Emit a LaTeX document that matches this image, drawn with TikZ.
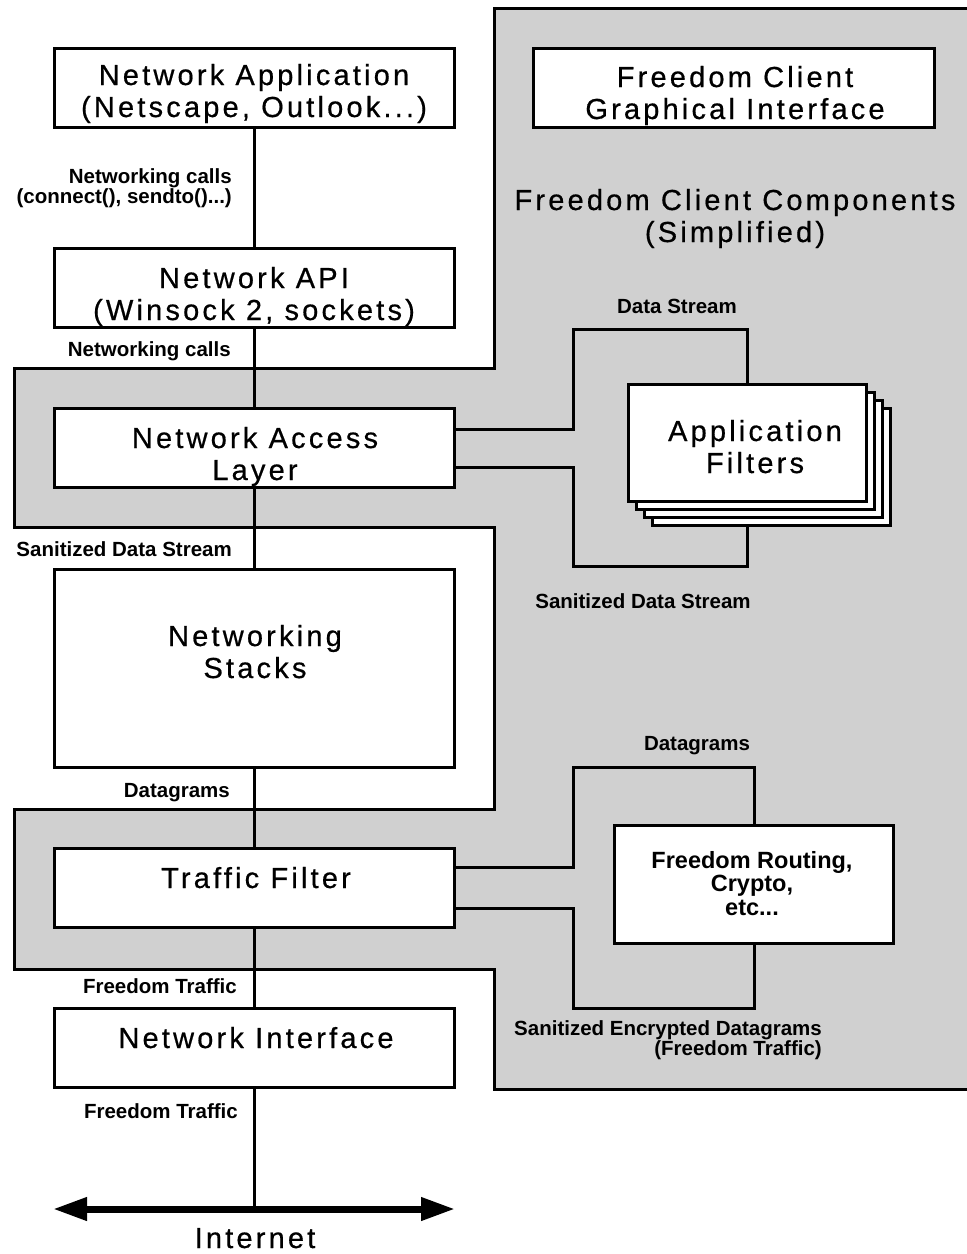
\documentclass[tikz,border=0pt]{standalone}
\usepackage{fontspec}
\setmainfont{Liberation Sans}
\newfontfamily\boxfont[LetterSpace=11,FakeBold=0.6]{Liberation Sans}
\usetikzlibrary{arrows.meta}
\definecolor{panel}{RGB}{208,208,208}

\begin{document}
\begin{tikzpicture}[x=1pt,y=-1pt,
  box/.style={draw, line width=3pt, fill=white, rectangle, inner sep=0pt,
    minimum width=400pt, minimum height=79pt},
  boxtext/.style={anchor=base, align=center, inner sep=0pt,
    font=\boxfont\fontsize{29}{32}\selectfont},
  lbl/.style={anchor=base east, align=right, inner sep=0pt,
    font=\bfseries\fontsize{20.5}{20}\selectfont},
  clbl/.style={lbl, anchor=base, align=center},
  wire/.style={line width=3pt},
  card/.style={draw, line width=3pt, fill=white, rectangle, inner sep=0pt,
    minimum width=238pt, minimum height=117pt}]

% page
\fill[white] (0,0) rectangle (967,1254);
\useasboundingbox (0,0) rectangle (967,1254);

% grey panel holding the Freedom client components
\begin{scope}
  \clip (0,0) rectangle (967,1254);
  \draw[line width=3pt, fill=panel]
    (494,8.5) -- (985,8.5) -- (985,1089) -- (494,1089) -- (494,969)
    -- (14,969) -- (14,809) -- (494,809) -- (494,527) -- (14,527)
    -- (14,368) -- (494,368) -- cycle;
\end{scope}

% left column
\node[box] (napp) at (254,88) {};
\node[box] (napi) at (254,288) {};
\node[box] (nal)  at (254,448) {};
\node[box, minimum height=198pt] (nstk) at (254,668) {};
\node[box] (tf)   at (254,888) {};
\node[box] (ni)   at (254,1048) {};

% right side
\node[box, minimum width=401pt] (gui) at (734,88) {};
\node[card] (card3) at (771.5,467.3) {};
\node[card] (card2) at (763.5,459.3) {};
\node[card] (card1) at (755.5,451.3) {};
\node[card] (appf)  at (747.5,443.3) {};
\node[box, minimum width=279pt, minimum height=118pt] (route) at (754,884.5) {};

% box texts (anchor base = baseline of the last line)
\node[boxtext] (tnapp) at (254,117)  {Network Application\\(Netscape, Outlook...)};
\node[boxtext] (tnapi) at (254,320) {Network API\\(Winsock 2, sockets)};
\node[boxtext] (tnal)  at (255,480) {Network Access\\Layer};
\node[boxtext] (tnstk) at (255,678) {Networking\\Stacks};
\node[boxtext] (ttf)   at (256,888) {Traffic Filter};
\node[boxtext] (tni)   at (256,1048) {Network Interface};
\node[boxtext] (tgui)  at (735,119) {Freedom Client\\Graphical Interface};
\node[boxtext] (tfcc)  at (735,242) {Freedom Client Components\\(Simplified)};
\node[boxtext] (tappf) at (755,473) {Application\\Filters};
\node[anchor=base, align=center, inner sep=0pt,
  font=\bfseries\fontsize{23.5}{23.5}\selectfont] (troute) at (752,915)
  {Freedom Routing,\\Crypto,\\etc...};
\node[boxtext] (tinet) at (255,1248) {Internet};

% main vertical chain
\coordinate (inetL) at (53,1209);
\coordinate (inetR) at (455,1209);
\coordinate (inetC) at (254,1209);
\draw[wire] (napp.south) -- (napi.north);
\draw[wire] (napi.south) -- (nal.north);
\draw[wire] (nal.south) -- (nstk.north);
\draw[wire] (nstk.south) -- (tf.north);
\draw[wire] (tf.south) -- (ni.north);
\draw[wire] (ni.south) -- (inetC);
\draw[line width=7pt, {Triangle[length=34pt,width=22pt]}-{Triangle[length=34pt,width=22pt]}]
  (inetL) -- (inetR);

% application filter loop
\draw[wire] ([yshift=19pt]nal.east) -| (573.5,329.5) -| (appf.north);
\draw[wire] ([yshift=-19pt]nal.east) -| (573.5,566.5) -| (appf.south |- card3.south);

% routing / crypto loop
\draw[wire] ([yshift=21pt]tf.east) -| (573.5,767.5) -| (route.north);
\draw[wire] ([yshift=-20pt]tf.east) -| (573.5,1008.5) -| (route.south);

% connector labels
\node[lbl] (l1) at (232,203) {Networking calls\\(connect(), sendto()...)};
\node[lbl] (l2) at (231,356) {Networking calls};
\node[lbl] (l3) at (232,556) {Sanitized Data Stream};
\node[lbl] (l4) at (230,797) {Datagrams};
\node[lbl] (l5) at (237,993) {Freedom Traffic};
\node[lbl] (l6) at (238,1118) {Freedom Traffic};
\node[clbl] (r1) at (677,313) {Data Stream};
\node[clbl] (r2) at (643,608) {Sanitized Data Stream};
\node[clbl] (r3) at (697,750) {Datagrams};
\node[lbl] (r4) at (822,1055) {Sanitized Encrypted Datagrams\\(Freedom Traffic)};
\end{tikzpicture}
\end{document}
